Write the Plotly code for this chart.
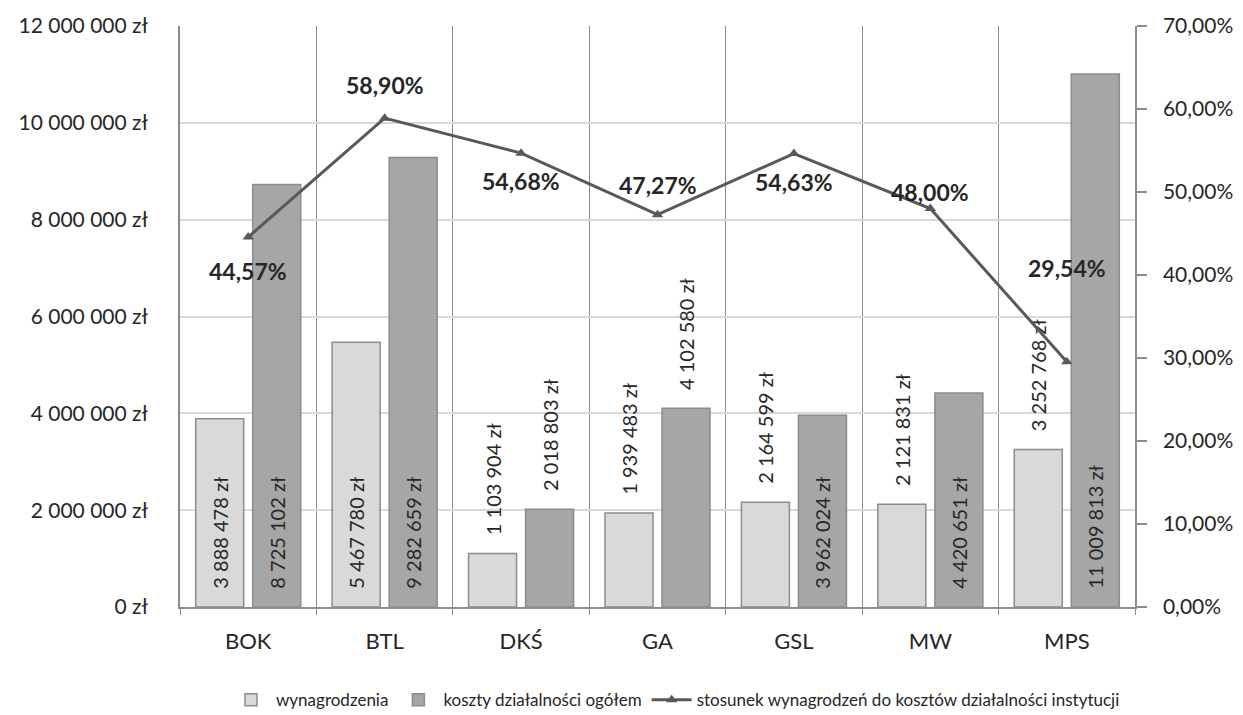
import plotly.graph_objects as go

categories = ["BOK", "BTL", "DKŚ", "GA", "GSL", "MW", "MPS"]
wynagrodzenia = [3888478, 5467780, 1103904, 1939483, 2164599, 2121831, 3252768]
koszty = [8725102, 9282659, 2018803, 4102580, 3962024, 4420651, 11009813]
stosunek = [0.4457, 0.5890, 0.5468, 0.4727, 0.5463, 0.4800, 0.2954]

y_ticks = [0, 2000000, 4000000, 6000000, 8000000, 10000000, 12000000]
y2_ticks = [0, 0.1, 0.2, 0.3, 0.4, 0.5, 0.6, 0.7]


def pln(v):
    return f"{v:,.0f}".replace(",", " ") + " zł"


y_ticktext = [pln(v) for v in y_ticks]

# styling (label placement per bar)
pos_wyn = ["inside", "inside", "outside", "outside", "outside", "outside", "outside"]
pos_kos = ["inside", "inside", "outside", "outside", "inside", "inside", "inside"]
line_label_shift = [-34, 33, -28, 30, -28, 17, 94]

FONT = "Lato"
TXT = "#262626"
PAD = "\u00a0\u00a0\u00a0"

fig = go.Figure()
fig.add_trace(go.Bar(
    x=categories, y=wynagrodzenia, name="wynagrodzenia",
    marker=dict(color="#d9d9d9", line=dict(color="#8c8c8c", width=1.5)),
    texttemplate=PAD + "%{y:,.0f} zł", textposition=pos_wyn, textangle=-90,
    insidetextanchor="start", constraintext="none", cliponaxis=False,
    textfont=dict(family=FONT, size=20, color=TXT),
))
fig.add_trace(go.Bar(
    x=categories, y=koszty, name="koszty działalności ogółem",
    marker=dict(color="#a6a6a6", line=dict(color="#8c8c8c", width=1.5)),
    texttemplate=PAD + "%{y:,.0f} zł", textposition=pos_kos, textangle=-90,
    insidetextanchor="start", constraintext="none", cliponaxis=False,
    textfont=dict(family=FONT, size=20, color=TXT),
))
fig.add_trace(go.Scatter(
    x=categories, y=stosunek, name="stosunek wynagrodzeń do kosztów działalności instytucji",
    yaxis="y2", mode="lines+markers",
    line=dict(color="#595959", width=3),
    marker=dict(symbol="triangle-up", size=10, color="#595959"),
    cliponaxis=False,
))

for c, v, s in zip(categories, stosunek, line_label_shift):
    fig.add_annotation(
        x=c, y=v, yref="y2", xref="x", text="<b>" + f"{v*100:.2f}".replace(".", ",") + "%</b>",
        showarrow=False, yshift=s, font=dict(family=FONT, size=23, color=TXT),
    )

fig.update_layout(
    width=1243, height=715,
    margin=dict(l=172, r=116, t=18, b=116, autoexpand=False),
    paper_bgcolor="white", plot_bgcolor="white",
    separators=", ",
    barmode="group", bargap=0.164, bargroupgap=0.158,
    font=dict(family=FONT, size=20, color=TXT),
    showlegend=True,
    legend=dict(orientation="h", xref="container", yref="container",
                x=0.537, y=0.032, xanchor="center", yanchor="middle",
                font=dict(family=FONT, size=17, color=TXT), traceorder="normal",
                itemwidth=40),
    xaxis=dict(
        type="category", tickson="boundaries", ticks="outside", ticklen=6,
        tickcolor="#8c8c8c", showgrid=True, gridcolor="#8c8c8c", gridwidth=1,
        showline=True, linecolor="#8c8c8c", linewidth=1.5,
        ticklabelstandoff=14, automargin=False,
        tickfont=dict(family=FONT, size=22, color=TXT),
    ),
    yaxis=dict(
        range=[0, 12000000], tickvals=y_ticks, ticktext=y_ticktext,
        showgrid=True, gridcolor="#d9d9d9", gridwidth=1.5,
        showline=True, linecolor="#8c8c8c", linewidth=1.5,
        zeroline=False, ticks="", ticklabelstandoff=26, automargin=False,
        tickfont=dict(family=FONT, size=21, color=TXT),
    ),
    yaxis2=dict(
        range=[0, 0.7], tickvals=y2_ticks, tickformat=".2%", overlaying="y", side="right",
        showgrid=False, zeroline=False, showline=True, linecolor="#8c8c8c", linewidth=1.5,
        ticks="outside", ticklen=10, tickcolor="#8c8c8c", tickwidth=1.5, ticklabelstandoff=12,
        automargin=False,
        tickfont=dict(family=FONT, size=21, color=TXT),
    ),
)

fig.write_html("out.html")
